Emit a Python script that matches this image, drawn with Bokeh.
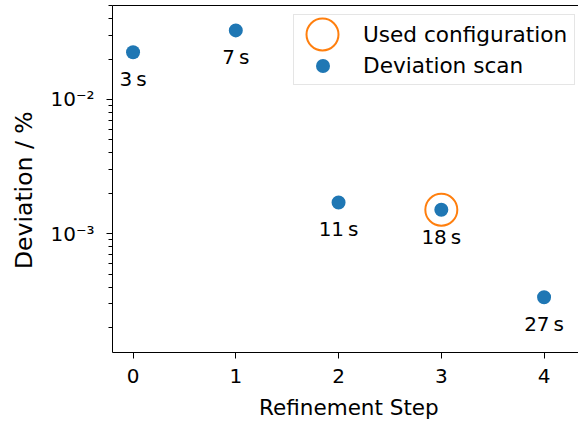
from bokeh.plotting import figure
from bokeh.models import (ColumnDataSource, Range1d, LinearAxis, FixedTicker,
                          CustomJSTickFormatter, Legend, LegendItem)
from bokeh.core.properties import value
from bokeh.embed import file_html
from bokeh.resources import INLINE

# ---- data ----
steps = [0, 1, 2, 3, 4]
deviations = [0.0225, 0.0327, 0.00171, 0.00151, 0.000337]   # percent
times_s = [3, 7, 11, 18, 27]
used_index = 3

labels = [f"{t}\u2009s" for t in times_s]

FONT = "DejaVu Sans"
BLUE = "#1f77b4"
ORANGE = "#ff7f0e"

src = ColumnDataSource(dict(x=steps, y=deviations, label=labels))
used_src = ColumnDataSource(dict(x=[steps[used_index]], y=[deviations[used_index]]))

p = figure(frame_width=466, frame_height=347,
           x_range=Range1d(-0.2, 4.335), y_range=Range1d(1.306e-4, 0.0501),
           y_axis_type="log", output_backend="svg", toolbar_location=None,
           min_border_left=112, min_border_right=0, min_border_top=5,
           min_border_bottom=71)
p.outline_line_color = None
p.grid.visible = False
p.background_fill_color = "white"
p.border_fill_color = "white"

xax = p.below[0]
yax = p.left[0]

# axes styling
for ax in (xax, yax):
    ax.axis_line_color = "black"
    ax.axis_line_width = 1
    ax.major_tick_line_color = "black"
    ax.minor_tick_line_color = "black"
    ax.major_tick_in = 0
    ax.major_tick_out = 6
    ax.minor_tick_in = 0
    ax.minor_tick_out = 4
    ax.major_label_text_font = FONT
    ax.major_label_text_font_size = "20px"
    ax.major_label_text_color = "black"
    ax.axis_label_text_font = FONT
    ax.axis_label_text_font_style = "normal"
    ax.axis_label_text_color = "black"

xax.ticker = FixedTicker(ticks=steps)
xax.minor_tick_line_color = None
xax.major_label_standoff = 10
xax.axis_label = "\u00a0Refinement Step"
xax.axis_label_text_font_size = "21.5px"
xax.axis_label_standoff = 9

yax.major_label_standoff = 12
yax.axis_label = "Deviation / %\u00a0\u00a0\u00a0"
yax.axis_label_text_font_size = "23.5px"
yax.axis_label_standoff = 9
yax.formatter = CustomJSTickFormatter(code="""
const sup = {"-": "\u207b", "0": "\u2070", "1": "\u00b9", "2": "\u00b2", "3": "\u00b3",
             "4": "\u2074", "5": "\u2075", "6": "\u2076", "7": "\u2077", "8": "\u2078", "9": "\u2079"};
const e = Math.round(Math.log10(tick));
return "10" + String(e).split("").map(c => sup[c]).join("");
""")

# top spine (no ticks, no labels)
top = LinearAxis(ticker=FixedTicker(ticks=[]))
top.major_label_text_font_size = "0px"
top.major_tick_out = 0
top.major_tick_in = 0
top.minor_tick_out = 0
top.minor_tick_in = 0
top.major_label_standoff = 0
top.axis_line_color = "black"
top.axis_line_width = 1
p.add_layout(top, "above")

# marks
ring = p.scatter(x="x", y="y", source=used_src, size=32, marker="circle",
                 fill_color=None, line_color=ORANGE, line_width=2)
dots = p.scatter(x="x", y="y", source=src, size=14, marker="circle",
                 fill_color=BLUE, line_color=None)
ghost = p.scatter(x="x", y="y", source=used_src, size=0, fill_alpha=0, line_alpha=0)

p.text(x="x", y="y", text="label", source=src, y_offset=27,
       text_align="center", text_baseline="alphabetic",
       text_font=value(FONT), text_font_size="20px", text_color="black")

# legend box with labels
leg = Legend(items=[LegendItem(label="Used configuration", renderers=[ghost]),
                    LegendItem(label="Deviation scan", renderers=[ghost])],
             location=(181, 267), margin=0, padding=5, spacing=3,
             glyph_height=28, glyph_width=40, label_standoff=24, label_width=206,
             label_text_font=FONT, label_text_font_size="21.6px", label_text_color="black",
             border_line_color="#cccccc", border_line_width=1,
             background_fill_color="white", background_fill_alpha=0.8)
p.add_layout(leg)

# legend glyphs at their own sizes
leg_ring = Legend(items=[LegendItem(label="Used configuration", renderers=[ring])],
                  location=(170, 278), margin=0, padding=0, spacing=0,
                  glyph_height=80, glyph_width=80, label_standoff=0, label_width=0,
                  label_text_alpha=0, label_text_font_size="1px",
                  border_line_color=None, background_fill_alpha=0)
p.add_layout(leg_ring)

leg_dot = Legend(items=[LegendItem(label="Deviation scan", renderers=[dots])],
                 location=(192.5, 269.5), margin=0, padding=0, spacing=0,
                 glyph_height=35, glyph_width=35, label_standoff=0, label_width=0,
                 label_text_alpha=0, label_text_font_size="1px",
                 border_line_color=None, background_fill_alpha=0)
p.add_layout(leg_dot)

open("out.html", "w").write(file_html(p, INLINE))
